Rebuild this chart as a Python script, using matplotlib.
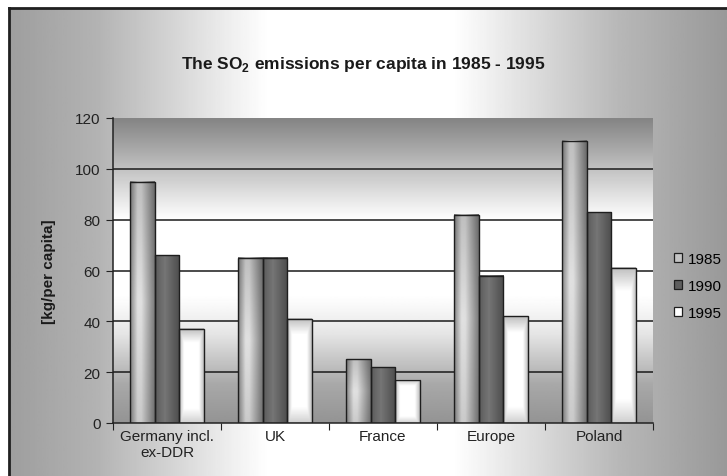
import numpy as np
import matplotlib
matplotlib.use("Agg")
import matplotlib.pyplot as plt
from matplotlib.patches import Patch

plt.rcParams['font.family'] = ['Liberation Sans Narrow', 'Liberation Sans', 'DejaVu Sans']

# SO2 emissions, kg per capita
countries = ['Germany incl.\nex-DDR', 'UK', 'France', 'Europe', 'Poland']
years = ['1985', '1990', '1995']
so2_1985 = [95, 65, 25, 82, 111]
so2_1990 = [66, 65, 22, 58, 83]
so2_1995 = [37, 41, 17, 42, 61]
yticks = [0, 20, 40, 60, 80, 100, 120]

W, H = 727, 477
fig = plt.figure(figsize=(W / 100, H / 100), dpi=100)
fig.patch.set_facecolor('white')

# chart area: grey -> white -> grey from left to right, black frame on top/left
bg = fig.add_axes([9 / W, 0, 1 - 9 / W, 1 - 9 / H])
xs = np.linspace(0, 1, 400)
shade = np.interp(xs, [0, 0.12, 0.36, 0.62, 0.85, 1], [0.62, 0.70, 1.0, 1.0, 0.72, 0.60])
bg.imshow(shade[None, :], cmap='gray', vmin=0, vmax=1, aspect='auto', extent=(0, 1, 0, 1))
bg.set_xticks([])
bg.set_yticks([])
for side in ['right', 'bottom']:
    bg.spines[side].set_visible(False)
for side in ['left', 'top']:
    bg.spines[side].set_linewidth(2)
    bg.spines[side].set_color('#202020')

ax = fig.add_axes([113 / W, 53 / H, 540 / W, 305 / H])
ax.set_facecolor('none')

# plot area: darker at top and bottom, white band in the middle
ys = np.linspace(0, 120, 300)
vshade = np.interp(ys, [0, 15, 35, 50, 80, 92, 108, 120],
                   [0.58, 0.66, 0.9, 1.0, 1.0, 0.86, 0.66, 0.52])
ax.imshow(vshade[::-1, None], cmap='gray', vmin=0, vmax=1, aspect='auto',
          extent=(0, 5, 0, 120), zorder=0)

for y in yticks[1:-1]:
    ax.axhline(y, color='#1a1a1a', lw=1.1, zorder=1)

n = len(countries)
centers = np.arange(n) + 0.5
bw = 0.229

u = np.linspace(0, 1, 60)
prof_85 = np.interp(u, [0, 0.3, 0.45, 1], [0.52, 0.88, 0.88, 0.48])
prof_90 = np.interp(u, [0, 0.4, 1], [0.36, 0.46, 0.30])
prof_95h = np.interp(u, [0, 0.2, 0.8, 1], [0.72, 1.0, 1.0, 0.75])
v = np.linspace(0, 1, 80)
prof_95v = np.interp(v, [0, 0.15, 0.85, 1], [0.75, 1.0, 1.0, 0.82])
prof_85v = np.interp(v, [0, 0.5, 1], [0.85, 1.0, 0.9])

gradients = [
    prof_85[None, :] * prof_85v[:, None],
    np.tile(prof_90, (80, 1)),
    np.minimum(prof_95h[None, :], prof_95v[:, None]),
]

series = [so2_1985, so2_1990, so2_1995]
for k, vals in enumerate(series):
    bars = ax.bar(centers + (k - 1) * bw, vals, width=bw, facecolor='none',
                  edgecolor='#1e1e1e', linewidth=1.0, zorder=3)
    for b in bars:
        x0, h = b.get_x(), b.get_height()
        ax.imshow(gradients[k], cmap='gray', vmin=0, vmax=1, aspect='auto',
                  extent=(x0, x0 + b.get_width(), 0, h), zorder=2)

ax.set_xlim(0, n)
ax.set_ylim(0, 120)
ax.set_yticks(yticks)
ax.set_yticklabels([str(t) for t in yticks], fontsize=11, color='#222222')
ax.set_xticks(np.arange(n + 1))
ax.set_xticklabels([])
ax.set_xticks(centers, minor=True)
ax.set_xticklabels(countries, minor=True, fontsize=11, color='#222222')
ax.tick_params(axis='x', which='minor', length=0, pad=4)
ax.tick_params(axis='x', which='major', length=5, color='#222222', direction='out')
ax.tick_params(axis='y', length=5, color='#222222', direction='out', pad=4)
for side in ['top', 'right']:
    ax.spines[side].set_visible(False)
for side in ['left', 'bottom']:
    ax.spines[side].set_color('#222222')
    ax.spines[side].set_linewidth(1.1)
    ax.spines[side].set_zorder(4)

ax.set_ylabel('[kg/per capita]', fontsize=11, fontweight='bold', labelpad=14,
              color='#1a1a1a')

fig.text(363 / W, 1 - 64 / H, r'The SO$_\mathregular{2}$ emissions per capita in 1985 - 1995',
         ha='center', va='center', fontsize=12.5, fontweight='bold', color='#1a1a1a')

handles = [Patch(facecolor='#c4c4c4', edgecolor='#1e1e1e', lw=0.9),
           Patch(facecolor='#5e5e5e', edgecolor='#1e1e1e', lw=0.9),
           Patch(facecolor='white', edgecolor='#1e1e1e', lw=0.9)]
fig.legend(handles, years, loc='center left', bbox_to_anchor=(666 / W, 1 - 287 / H),
           frameon=False, fontsize=11, handlelength=0.55, handleheight=0.55,
           handletextpad=0.35, labelspacing=0.85, borderpad=0)

fig.savefig('out.png', dpi=100)
